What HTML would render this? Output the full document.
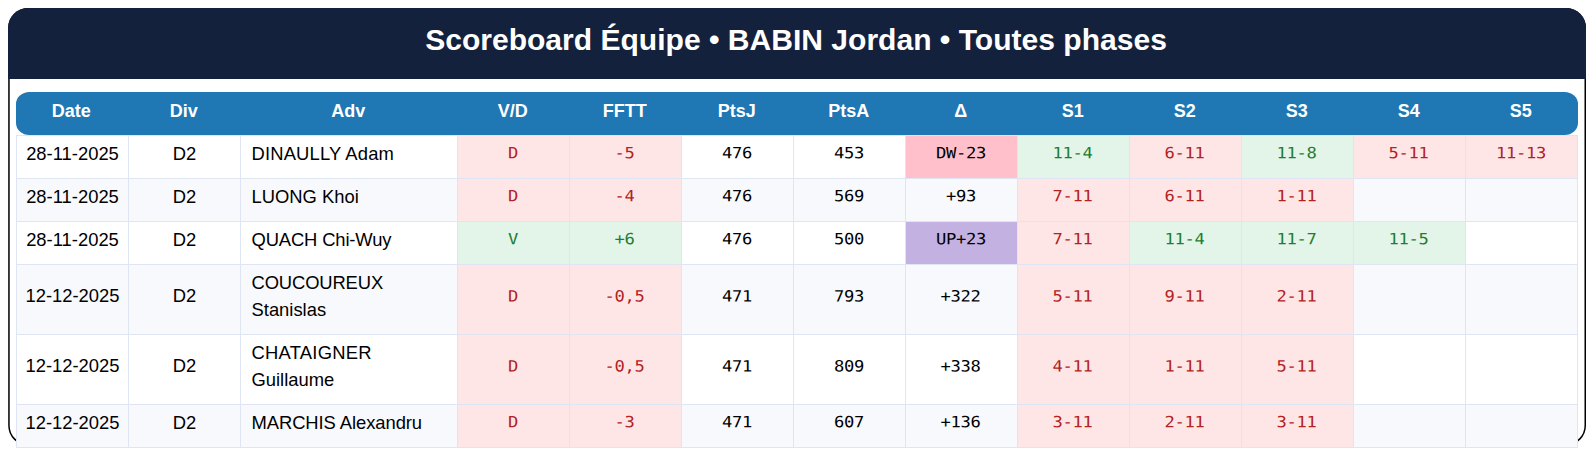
<!DOCTYPE html>
<html lang="fr">
<head>
<meta charset="utf-8">
<title>Scoreboard Équipe</title>
<style>
html,body{margin:0;padding:0;background:#fff;}
body{width:1593px;height:454px;overflow:hidden;position:relative;font-family:"Liberation Sans",sans-serif;}
.outline{position:absolute;left:0;top:0;width:1593px;height:454px;}
.title{position:absolute;left:8px;top:8px;width:1578px;height:71px;border-radius:20px 20px 0 0;background:#14213d;color:#fff;font-weight:bold;font-size:30.05px;text-align:center;line-height:63px;box-sizing:border-box;padding-right:2px;}
table{position:absolute;left:16px;top:92px;border-collapse:separate;border-spacing:0;table-layout:fixed;width:1562px;}
th{background:#1f77b4;color:#fff;font-weight:bold;font-size:18px;height:43px;padding:0 2.5px 5px 0;box-sizing:border-box;text-align:center;}
th:first-child{border-radius:13.5px 0 0 13.5px / 12px 0 0 12px;}
th:last-child{border-radius:0 13.5px 13.5px 0 / 0 12px 12px 0;}
td{box-sizing:border-box;height:43px;border-right:1px solid #dfe5f3;border-bottom:1px solid #dfe5f3;font-size:18.4px;color:#000;text-align:center;padding:0 0 7px 0;vertical-align:middle;}
td:first-child{border-left:1px solid #dfe5f3;}
tr.tall td{height:70px;}
tr.first td{height:44px;border-top:1px solid #dfe5f3;}
tr:nth-child(odd) td{--bg:#f8f9fd;}
tr:nth-child(even) td{--bg:#fff;}
td{background:var(--bg);}
td.adv{text-align:left;padding-left:10.5px;line-height:27px;}
td.m{font-family:"DejaVu Sans Mono","Liberation Mono",monospace;font-size:15.6px;padding-bottom:7px;letter-spacing:-0.3px;}
td.m span{display:inline-block;transform:translate(-0.6px,-0.7px) scaleX(1.10) rotate(0.03deg);transform-origin:50% 50%;}
tr.tall td.m span{transform:translate(-0.6px,0.4px) scaleX(1.10) rotate(0.03deg);}
tr td.l{--bg:#ffe6e6;color:#b22222;}
tr td.w{--bg:#e3f4e8;color:#1e7d32;}
tr td.dw{--bg:#ffc0cb;}
tr td.up{--bg:#c3b1e1;}
</style>
</head>
<body>
<svg class="outline" width="1593" height="454" viewBox="0 0 1593 454"><rect x="8.95" y="8.75" width="1576.3" height="436" rx="19.25" ry="19.25" fill="#fff" stroke="#000" stroke-width="1.5"/></svg>
<div class="title">Scoreboard Équipe • BABIN Jordan • Toutes phases</div>
<table>
<colgroup><col style="width:113px"><col style="width:112px"><col style="width:217px"><col style="width:112px"><col style="width:112px"><col style="width:112px"><col style="width:112px"><col style="width:112px"><col style="width:112px"><col style="width:112px"><col style="width:112px"><col style="width:112px"><col style="width:112px"></colgroup>
<tr><th>Date</th><th>Div</th><th>Adv</th><th>V/D</th><th>FFTT</th><th>PtsJ</th><th>PtsA</th><th>Δ</th><th>S1</th><th>S2</th><th>S3</th><th>S4</th><th>S5</th></tr>
<tr class="first"><td>28-11-2025</td><td>D2</td><td class="adv" style="letter-spacing:0.17px">DINAULLY Adam</td><td class="m l"><span>D</span></td><td class="m l"><span>-5</span></td><td class="m"><span>476</span></td><td class="m"><span>453</span></td><td class="m dw"><span>DW-23</span></td><td class="m w"><span>11-4</span></td><td class="m l"><span>6-11</span></td><td class="m w"><span>11-8</span></td><td class="m l"><span>5-11</span></td><td class="m l"><span>11-13</span></td></tr>
<tr><td>28-11-2025</td><td>D2</td><td class="adv">LUONG Khoi</td><td class="m l"><span>D</span></td><td class="m l"><span>-4</span></td><td class="m"><span>476</span></td><td class="m"><span>569</span></td><td class="m"><span>+93</span></td><td class="m l"><span>7-11</span></td><td class="m l"><span>6-11</span></td><td class="m l"><span>1-11</span></td><td class="m"></td><td class="m"></td></tr>
<tr><td>28-11-2025</td><td>D2</td><td class="adv" style="letter-spacing:-0.14px">QUACH Chi-Wuy</td><td class="m w"><span>V</span></td><td class="m w"><span>+6</span></td><td class="m"><span>476</span></td><td class="m"><span>500</span></td><td class="m up"><span>UP+23</span></td><td class="m l"><span>7-11</span></td><td class="m w"><span>11-4</span></td><td class="m w"><span>11-7</span></td><td class="m w"><span>11-5</span></td><td class="m"></td></tr>
<tr class="tall"><td>12-12-2025</td><td>D2</td><td class="adv"><span style="letter-spacing:-0.13px">COUCOUREUX</span><br>Stanislas</td><td class="m l"><span>D</span></td><td class="m l"><span>-0,5</span></td><td class="m"><span>471</span></td><td class="m"><span>793</span></td><td class="m"><span>+322</span></td><td class="m l"><span>5-11</span></td><td class="m l"><span>9-11</span></td><td class="m l"><span>2-11</span></td><td class="m"></td><td class="m"></td></tr>
<tr class="tall"><td>12-12-2025</td><td>D2</td><td class="adv"><span style="letter-spacing:0.24px">CHATAIGNER</span><br>Guillaume</td><td class="m l"><span>D</span></td><td class="m l"><span>-0,5</span></td><td class="m"><span>471</span></td><td class="m"><span>809</span></td><td class="m"><span>+338</span></td><td class="m l"><span>4-11</span></td><td class="m l"><span>1-11</span></td><td class="m l"><span>5-11</span></td><td class="m"></td><td class="m"></td></tr>
<tr><td>12-12-2025</td><td>D2</td><td class="adv" style="letter-spacing:-0.07px">MARCHIS Alexandru</td><td class="m l"><span>D</span></td><td class="m l"><span>-3</span></td><td class="m"><span>471</span></td><td class="m"><span>607</span></td><td class="m"><span>+136</span></td><td class="m l"><span>3-11</span></td><td class="m l"><span>2-11</span></td><td class="m l"><span>3-11</span></td><td class="m"></td><td class="m"></td></tr>
</table>
</body>
</html>
